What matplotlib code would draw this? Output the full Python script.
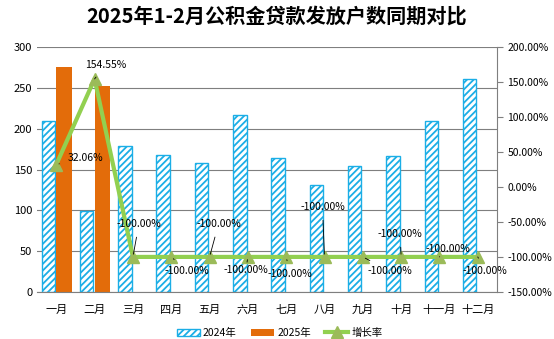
import matplotlib.pyplot as plt
import numpy as np

plt.rcParams['font.family'] = ['Noto Sans CJK SC', 'DejaVu Sans']
plt.rcParams['hatch.linewidth'] = 1.3

months = ['一月', '二月', '三月', '四月', '五月', '六月', '七月', '八月', '九月', '十月', '十一月', '十二月']
y2024 = [209, 99, 179, 168, 158, 217, 164, 131, 154, 167, 209, 261]
y2025 = [276, 252, 0, 0, 0, 0, 0, 0, 0, 0, 0, 0]
rate = [32.06, 154.55, -100, -100, -100, -100, -100, -100, -100, -100, -100, -100]
rate_labels = ['32.06%', '154.55%'] + ['-100.00%'] * 10

# label offsets in pixels (dx, dy)
offs = [(29, 7), (11, 14), (6, 33), (16, -14), (9, 33), (-2, -13),
        (4, -17), (-2, 50), (27, -14), (-1, 23), (8, 8), (7, -14)]

blue = '#1BAEE6'
orange = '#E36C0A'
green = '#92D050'

fig = plt.figure(figsize=(5.54, 3.39), dpi=100)
ax = fig.add_axes([0.067, 0.139, 0.83, 0.722])
ax2 = ax.twinx()

x = np.arange(len(months))
w = 0.35
b1 = ax.bar(x - 0.21, y2024, w, color='white', edgecolor=blue, hatch='/////', linewidth=1.0, label='2024年')
b2 = ax.bar(x + 0.2, y2025, 0.4, color=orange, label='2025年')

ax.set_ylim(0, 300)
ax.set_yticks(range(0, 301, 50))
ax.set_xlim(-0.5, 11.5)
ax.set_xticks(x)
ax.set_xticklabels(months, fontsize=8, va='baseline')
ax.tick_params(axis='y', labelsize=8, length=0)
ax.tick_params(axis='x', length=0, pad=15)
ax.grid(axis='y', color='#7f7f7f', linewidth=0.8)
ax.set_axisbelow(True)
for s in ['top', 'left', 'right']:
    ax.spines[s].set_visible(False)
ax.spines['bottom'].set_color('#7f7f7f')

r = np.array(rate) / 100
ln, = ax2.plot(x, r, color=green, linewidth=3, marker='^', markersize=8,
               markerfacecolor='#9BBB59', markeredgecolor='#9BBB59', label='增长率')
ax2.set_ylim(-1.5, 2.0)
ax2.set_yticks(np.arange(-1.5, 2.01, 0.5))
ax2.set_yticklabels(['%.2f%%' % (v * 100) for v in np.arange(-1.5, 2.01, 0.5)])
ax2.tick_params(axis='y', labelsize=7.5, length=4, color='#7f7f7f')
for s in ['top', 'left', 'bottom']:
    ax2.spines[s].set_visible(False)
ax2.spines['right'].set_color('#7f7f7f')

for i, lab in enumerate(rate_labels):
    ax2.annotate(lab, (x[i], r[i]), xytext=offs[i], textcoords='offset pixels',
                 ha='center', va='center', fontsize=7.5,
                 arrowprops=dict(arrowstyle='-', color='black', linewidth=0.6, shrinkA=4, shrinkB=2))

fig.suptitle('2025年1-2月公积金贷款发放户数同期对比', fontsize=14.5, fontweight='bold', y=0.985)
fig.legend(handles=[b1, b2, ln], loc='lower center', ncol=3, frameon=False,
           fontsize=7.5, bbox_to_anchor=(0.505, -0.025), handlelength=2.2,
           handletextpad=0.3, columnspacing=1.4)

fig.savefig('out.png', dpi=100)
